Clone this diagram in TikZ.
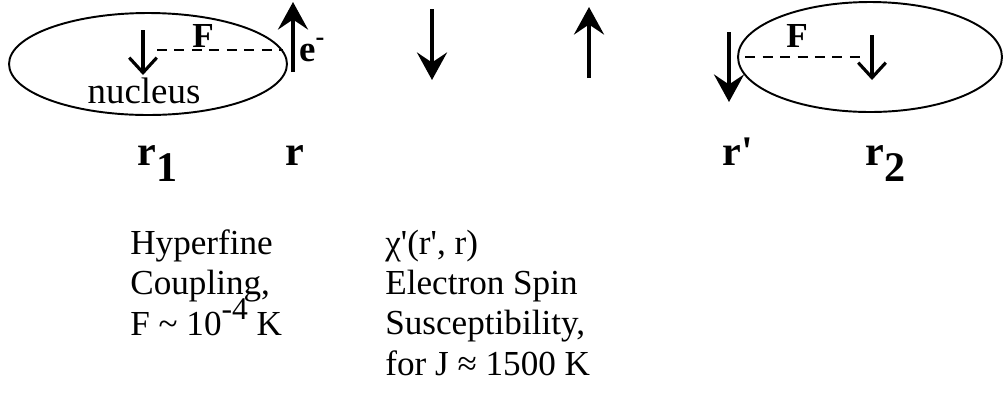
\documentclass[tikz,border=0pt]{standalone}
\usepackage{fontspec}
\setmainfont{Liberation Serif}
\usetikzlibrary{arrows.meta,shapes.geometric}
\tikzset{
  orbit/.style={draw, ellipse, line width=1.1pt, inner sep=0pt},
  spinarrow/.style={-{Stealth[length=0.55cm, width=0.6cm, inset=0.2cm]},
    line width=2.2pt},
  nucarrow/.style={-{Straight Barb[length=0.3cm, width=0.55cm]},
    line width=1.8pt},
  hfline/.style={line width=1.1pt, dash pattern=on 0.2cm off 0.15cm},
  hflabel/.style={font=\bfseries\fontsize{20}{20}\selectfont, inner sep=0pt},
  poslabel/.style={font=\bfseries\fontsize{24}{24}\selectfont, inner sep=0pt,
    anchor=base west},
  bodytext/.style={font=\fontsize{20}{22.8}\selectfont, inner sep=0pt,
    align=left, anchor=base west},
}
\begin{document}
\begin{tikzpicture}[x=0.02cm, y=-0.02cm]
  \useasboundingbox (0,0) rectangle (1003,417);
  % orbits round the two nuclei
  \node[orbit, minimum width=5.56cm, minimum height=2.04cm] (orbL) at (148,64) {};
  \node[orbit, minimum width=5.28cm, minimum height=2.2cm] (orbR) at (870,57) {};
  % spins
  \coordinate (nucLtail) at (143,30);
  \coordinate (nucLhead) at (143,75);
  \coordinate (nucRtail) at (872,35);
  \coordinate (nucRhead) at (872,80);
  \coordinate (eLtail) at (293,72);
  \coordinate (eLhead) at (293,2);
  \coordinate (midAtail) at (432,9);
  \coordinate (midAhead) at (432,80);
  \coordinate (midBtail) at (589,78);
  \coordinate (midBhead) at (589,7);
  \coordinate (eRtail) at (729,32);
  \coordinate (eRhead) at (729,102);
  \draw[nucarrow] (nucLtail) -- (nucLhead);
  \draw[nucarrow] (nucRtail) -- (nucRhead);
  \draw[spinarrow] (eLtail) -- (eLhead);
  \draw[spinarrow] (midAtail) -- (midAhead);
  \draw[spinarrow] (midBtail) -- (midBhead);
  \draw[spinarrow] (eRtail) -- (eRhead);
  % hyperfine links
  \coordinate (hfLa) at (157,50);
  \coordinate (hfLb) at (283,50);
  \coordinate (hfRa) at (745,57);
  \coordinate (hfRb) at (866,57);
  \draw[hfline] (hfLa) -- (hfLb);
  \draw[hfline] (hfRa) -- (hfRb);
  \node[hflabel] (fL) at (203,36) {F};
  \node[hflabel] (fR) at (797,36) {F};
  \node[font=\bfseries\fontsize{21}{21}\selectfont, inner sep=0pt, anchor=base west]
    (eLab) at (299,61) {e\raisebox{0.42em}{\fontsize{15}{15}\selectfont -}};
  \node[font=\fontsize{21}{21}\selectfont, inner sep=0pt, anchor=base]
    (nucLab) at (144,103) {nucleus};
  % positions
  \node[poslabel] (rOne) at (137,165) {r\raisebox{-0.4em}{1}};
  \node[poslabel] (rEl) at (285,165) {r};
  \node[poslabel] (rPr) at (722,165) {r\textquotesingle};
  \node[poslabel] (rTwo) at (865,165) {r\raisebox{-0.4em}{2}};
  % captions
  \node[bodytext] (hfText) at (130,335)
    {Hyperfine\\Coupling,\\F \textasciitilde{} 10\smash{\raisebox{0.45em}{\fontsize{18}{18}\selectfont -4}} K};
  \node[bodytext] (chiText) at (385,375)
    {χ\textquotesingle(r\textquotesingle, r)\\Electron Spin\\Susceptibility,\\for J ≈ 1500 K};
\end{tikzpicture}
\end{document}
